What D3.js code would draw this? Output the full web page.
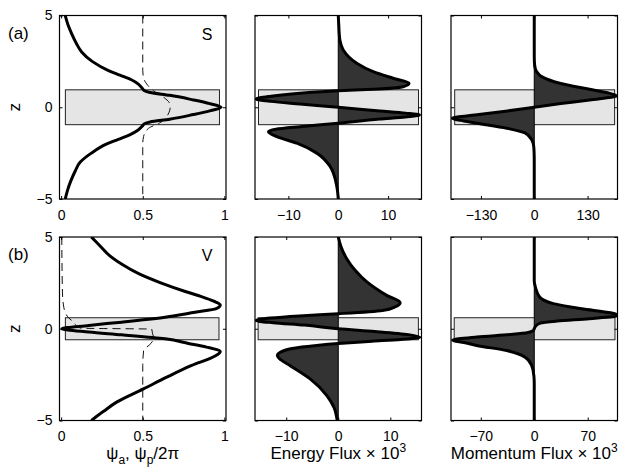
<!DOCTYPE html>
<html>
<head>
<meta charset="utf-8">
<script src="https://cdn.jsdelivr.net/npm/d3@7"></script>
<style>
  body { margin: 0; background: #fff; }
  svg { display: block; font-family: "Liberation Sans", Arial, sans-serif; }
</style>
</head>
<body>
<svg id="chart" width="629" height="473"></svg>
<script>
(function() {
  'use strict';

  // ---- data: [z, value] pairs ----
  const zTicks = [-5, 0, 5];
  const psiTicks = [0, 0.5, 1];
  const energyTicks = [-10, 0, 10];
  const momentumTicksS = [-130, 0, 130];
  const momentumTicksV = [-70, 0, 70];

  // layer half-thickness for each row (shaded box)
  const layerZ = [0.95, 0.6];

  // (a) S mode
  const psiA_S = [[5,0.025],[4.5,0.042],[4,0.065],[3.5,0.092],[3,0.127],[2.5,0.19],[2,0.29],
    [1.75,0.36],[1.5,0.43],[1.25,0.475],[1.0,0.5],[0.9,0.51],[0.8,0.545],[0.65,0.665],
    [0.4,0.81],[0.2,0.91],[0,0.98],[-0.2,0.91],[-0.4,0.81],[-0.65,0.665],[-0.8,0.545],
    [-0.9,0.51],[-1.0,0.5],[-1.25,0.47],[-1.5,0.42],[-1.75,0.35],[-2,0.28],[-2.5,0.185],
    [-3,0.116],[-3.5,0.085],[-4,0.06],[-4.5,0.04],[-5,0.025]];
  const psiP_S = [[5,0.5],[2,0.5],[1.6,0.505],[1.2,0.53],[0.9,0.565],[0.55,0.627],[0.2,0.665],
    [0,0.668],[-0.3,0.66],[-0.85,0.605],[-1.15,0.535],[-1.6,0.505],[-2,0.5],[-5,0.5]];
  const energy_S = [[5,0],[4.5,0.1],[4,0.2],[3.66,0.33],[3.12,1.0],[2.4,3.7],[1.94,7],[1.58,11],
    [1.31,14.2],[1.12,13],[0.98,7],[0.9,0],[0.76,-7.7],[0.6,-13.5],[0.45,-16.5],[0.32,-13.5],
    [0.18,-7.7],[0,0],[-0.2,8.3],[-0.32,13.5],[-0.42,16.3],[-0.53,13.5],[-0.64,8.3],[-0.87,0],
    [-1.06,-7.7],[-1.2,-12.5],[-1.33,-14],[-1.6,-12.3],[-1.96,-8.3],[-2.5,-4.3],[-3.2,-1.7],
    [-4.3,-0.3],[-5,0]];
  const momentum_S = [[5,0],[3,0],[2.5,0.3],[2.1,2.5],[1.94,5.8],[1.67,18],[1.31,62],[0.98,135],
    [0.8,176],[0.62,201],[0.4,135],[0.2,65],[0,0],[-0.2,-65],[-0.4,-135],[-0.6,-200],
    [-0.75,-172],[-0.87,-140],[-1.14,-67],[-1.4,-22.6],[-1.77,-6.3],[-2.1,-1.5],[-2.5,-0.3],
    [-3,0],[-5,0]];

  // (b) V mode
  const psiA_V = [[5,0.185],[4.5,0.24],[4,0.295],[3.5,0.375],[3,0.475],[2.5,0.61],[2,0.77],
    [1.75,0.86],[1.5,0.935],[1.3,0.975],[1.1,0.95],[0.9,0.82],[0.63,0.637],[0.36,0.37],
    [0.18,0.17],[0,0.005],[-0.18,0.17],[-0.33,0.37],[-0.55,0.637],[-0.8,0.78],[-1.0,0.89],
    [-1.25,0.975],[-1.5,0.94],[-2,0.8],[-2.64,0.647],[-3.28,0.504],[-4,0.34],[-4.5,0.26],
    [-5,0.185]];
  const psiP_V = [[5,0.004],[2,0.008],[1.3,0.014],[0.9,0.025],[0.6,0.045],[0.45,0.065],
    [0.2,0.09],[0.03,0.12],[-0.02,0.555],[-0.27,0.56],[-0.5,0.568],[-0.8,0.55],[-1.2,0.505],
    [-2,0.5],[-5,0.5]];
  const energy_V = [[5,0],[4.5,0.5],[3.83,1.6],[3.2,3.2],[2.55,5.5],[1.82,9.3],[1.42,11.9],
    [1.2,11],[1.0,8.5],[0.82,0],[0.7,-7.5],[0.58,-13],[0.45,-15.8],[0.33,-12.5],[0.2,-6.5],
    [0,0],[-0.15,7],[-0.32,13.5],[-0.46,15.7],[-0.58,12],[-0.68,6.5],[-0.8,0],[-1.0,-7],
    [-1.2,-10.5],[-1.46,-11.7],[-1.7,-11],[-2.0,-9.3],[-2.73,-5.4],[-3.64,-2.2],[-4.3,-0.8],
    [-5,-0.2]];
  const momentum_V = [[5,0],[2.6,0],[2.27,1.5],[1.73,7],[1.37,25],[1.09,62],[0.87,100],
    [0.72,110],[0.55,72],[0.42,30],[0.31,8],[0.15,2],[0,0],[-0.1,-1.5],[-0.2,-8],[-0.3,-28],
    [-0.45,-75],[-0.62,-107],[-0.75,-92],[-0.91,-75.5],[-1.19,-36],[-1.55,-12],[-2.0,-3.4],
    [-2.55,-0.5],[-3,0],[-5,0]];

  // ---- layout ----
  const colLeft = [59.5, 255, 451];
  const rowTop = [15.5, 237];
  const panelW = 166.5;
  const panelH = 183.5;
  const darkFill = '#333333';
  const boxFill = '#e5e5e5';

  const svg = d3.select('#chart');
  svg.append('rect').attr('width', 629).attr('height', 473).attr('fill', '#fff');

  const fmt = d3.format('');

  const panels = [
    {row: 0, col: 0, xDomain: [-0.01, 1.01], ticks: psiTicks, box: [0.026, 0.97],
      line: psiA_S, dashed: psiP_S},
    {row: 0, col: 1, xDomain: [-16.7, 16.7], ticks: energyTicks, box: [-16, 16.1],
      flux: energy_S},
    {row: 0, col: 2, xDomain: [-203, 203], ticks: momentumTicksS, box: [-194, 196],
      flux: momentum_S},
    {row: 1, col: 0, xDomain: [-0.01, 1.01], ticks: psiTicks, box: [0.026, 0.967],
      line: psiA_V, dashed: psiP_V},
    {row: 1, col: 1, xDomain: [-16, 16], ticks: energyTicks, box: [-15.4, 15.4],
      flux: energy_V},
    {row: 1, col: 2, xDomain: [-109, 109], ticks: momentumTicksV, box: [-104.8, 105.7],
      flux: momentum_V},
  ];

  panels.forEach(function(p, i) {
    const left = colLeft[p.col];
    const top = rowTop[p.row];
    const x = d3.scaleLinear().domain(p.xDomain).range([left, left + panelW]);
    const y = d3.scaleLinear().domain([-5, 5]).range([top + panelH, top]);
    const g = svg.append('g').attr('class', 'panel');

    const clipId = 'clip' + i;
    svg.append('clipPath').attr('id', clipId)
      .append('rect')
      .attr('x', left).attr('y', top).attr('width', panelW).attr('height', panelH);
    const inner = g.append('g').attr('clip-path', `url(#${clipId})`);

    // shaded layer
    const zl = layerZ[p.row];
    inner.append('rect')
      .attr('x', x(p.box[0]))
      .attr('y', y(zl))
      .attr('width', x(p.box[1]) - x(p.box[0]))
      .attr('height', y(-zl) - y(zl))
      .attr('fill', boxFill)
      .attr('stroke', '#222')
      .attr('stroke-width', 1);

    const line = d3.line()
      .x(d => x(d[1]))
      .y(d => y(d[0]))
      .curve(d3.curveMonotoneY);

    if (p.flux) {
      const area = d3.area()
        .x0(x(0))
        .x1(d => x(d[1]))
        .y(d => y(d[0]))
        .curve(d3.curveMonotoneY);
      inner.append('path').datum(p.flux)
        .attr('d', area)
        .attr('fill', darkFill);
      inner.append('line')
        .attr('x1', x(0)).attr('x2', x(0))
        .attr('y1', top).attr('y2', top + panelH)
        .attr('stroke', '#000').attr('stroke-width', 1);
      inner.append('path').datum(p.flux)
        .attr('d', line)
        .attr('fill', 'none')
        .attr('stroke', '#000')
        .attr('stroke-width', 3)
        .attr('stroke-linejoin', 'round');
    }

    if (p.line) {
      inner.append('path').datum(p.line)
        .attr('d', line)
        .attr('fill', 'none')
        .attr('stroke', '#000')
        .attr('stroke-width', 3)
        .attr('stroke-linejoin', 'round');
    }
    if (p.dashed) {
      inner.append('path').datum(p.dashed)
        .attr('d', line)
        .attr('fill', 'none')
        .attr('stroke', '#111')
        .attr('stroke-width', 1)
        .attr('stroke-dasharray', '8,5');
    }

    // axes, ticks pointing inward on all four sides
    const bottom = g.append('g')
      .attr('transform', `translate(0,${top + panelH})`)
      .call(d3.axisBottom(x).tickValues(p.ticks).tickSizeInner(-3).tickSizeOuter(0)
        .tickPadding(11).tickFormat(fmt));
    g.append('g')
      .attr('transform', `translate(0,${top})`)
      .call(d3.axisTop(x).tickValues(p.ticks).tickSizeInner(-3).tickSizeOuter(0)
        .tickFormat(''));
    const leftAx = g.append('g')
      .attr('transform', `translate(${left},0)`)
      .call(d3.axisLeft(y).tickValues(zTicks).tickSizeInner(-3).tickSizeOuter(0)
        .tickPadding(7).tickFormat(p.col === 0 ? fmt : ''));
    g.append('g')
      .attr('transform', `translate(${left + panelW},0)`)
      .call(d3.axisRight(y).tickValues(zTicks).tickSizeInner(-3).tickSizeOuter(0)
        .tickFormat(''));

    g.selectAll('.domain').remove();
    g.selectAll('.tick line').attr('stroke', '#000');
    g.selectAll('.tick text')
      .attr('font-family', '"Liberation Sans", Arial, sans-serif')
      .attr('font-size', 14)
      .attr('fill', '#000');

    g.append('rect')
      .attr('x', left).attr('y', top)
      .attr('width', panelW).attr('height', panelH)
      .attr('fill', 'none')
      .attr('stroke', '#000')
      .attr('stroke-width', 1.2);

    if (p.col === 0) {
      svg.append('text')
        .attr('transform', `translate(20,${y(0)}) rotate(-90)`)
        .attr('text-anchor', 'middle')
        .attr('font-size', 17)
        .text('z');
    }
  });

  // panel tags and mode labels
  const tags = ['(a)', '(b)'];
  const modes = ['S', 'V'];
  tags.forEach(function(t, r) {
    svg.append('text')
      .attr('x', 8).attr('y', rowTop[r] + 23)
      .attr('font-size', 17)
      .text(t);
    svg.append('text')
      .attr('x', 207).attr('y', rowTop[r] + 24)
      .attr('text-anchor', 'middle')
      .attr('font-size', 16)
      .text(modes[r]);
  });

  // x-axis titles below the bottom row
  const labelY = 459;
  const psiLabel = svg.append('text')
    .attr('x', colLeft[0] + panelW / 2).attr('y', labelY)
    .attr('text-anchor', 'middle')
    .attr('font-size', 17);
  psiLabel.append('tspan').text('ψ');
  psiLabel.append('tspan').attr('dy', 5).attr('font-size', 12).text('a');
  psiLabel.append('tspan').attr('dy', -5).text(', ψ');
  psiLabel.append('tspan').attr('dy', 5).attr('font-size', 12).text('p');
  psiLabel.append('tspan').attr('dy', -5).text('/2π');

  const fluxLabels = ['Energy Flux', 'Momentum Flux'];
  fluxLabels.forEach(function(name, k) {
    const t = svg.append('text')
      .attr('x', colLeft[k + 1] + panelW / 2).attr('y', labelY)
      .attr('text-anchor', 'middle')
      .attr('font-size', 17);
    t.append('tspan').text(name + ' × 10');
    t.append('tspan').attr('dy', -7).attr('font-size', 12).text('3');
  });
})();
</script>
</body>
</html>
